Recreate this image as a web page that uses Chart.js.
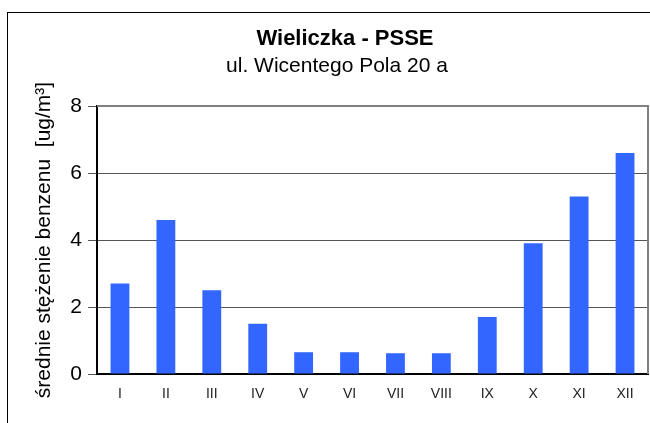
<!DOCTYPE html>
<html>
<head>
<meta charset="utf-8">
<script src="https://cdn.jsdelivr.net/npm/chart.js@4"></script>
<style>
  html, body { margin: 0; padding: 0; background: #fff; }
  #wrap { width: 650px; height: 423px; }
</style>
</head>
<body>
<div id="wrap"><canvas id="chart" width="650" height="423"></canvas></div>
<script>
// months (roman numerals) and mean benzene concentration [ug/m3]
const months = ['I', 'II', 'III', 'IV', 'V', 'VI', 'VII', 'VIII', 'IX', 'X', 'XI', 'XII'];
const benzene = [2.7, 4.6, 2.5, 1.5, 0.65, 0.65, 0.62, 0.62, 1.7, 3.9, 5.3, 6.6];
const yTicks = [0, 2, 4, 6, 8];

const titleText = 'Wieliczka - PSSE';
const subtitleText = 'ul. Wicentego Pola 20 a';
const yAxisText = 'średnie stężenie benzenu  [ug/m³]';

const FONT = '"Liberation Sans", Arial, sans-serif';

// outer frame, plot frame and the two title lines
const decorations = {
  id: 'decorations',
  beforeDraw(chart) {
    const ctx = chart.ctx;
    ctx.save();
    ctx.fillStyle = '#fff';
    ctx.fillRect(0, 0, chart.width, chart.height);
    ctx.strokeStyle = '#000';
    ctx.lineWidth = 1;
    ctx.strokeRect(7.5, 12.5, 700, 500);
    ctx.restore();
  },
  afterDatasetsDraw(chart) {
    const { ctx, chartArea: a } = chart;
    ctx.save();
    ctx.strokeStyle = '#808080';
    ctx.lineWidth = 2;
    ctx.beginPath();
    ctx.moveTo(a.left, a.top);
    ctx.lineTo(a.right, a.top);
    ctx.lineTo(a.right, a.bottom);
    ctx.stroke();
    ctx.fillStyle = '#000';
    ctx.textAlign = 'center';
    ctx.textBaseline = 'alphabetic';
    ctx.font = 'bold 22px ' + FONT;
    ctx.fillText(titleText, 345, 45);
    ctx.font = '21px ' + FONT;
    ctx.fillText(subtitleText, 337, 72);
    ctx.restore();
  }
};

new Chart(document.getElementById('chart'), {
  type: 'bar',
  data: {
    labels: months,
    datasets: [{
      data: benzene,
      backgroundColor: '#3366FF',
      categoryPercentage: 1,
      barPercentage: 0.41
    }]
  },
  options: {
    responsive: false,
    animation: false,
    layout: { padding: { top: 106, right: 2, bottom: 0, left: 12 } },
    plugins: {
      legend: { display: false },
      tooltip: { enabled: false }
    },
    scales: {
      x: {
        grid: { display: false },
        border: { color: '#000', width: 2 },
        ticks: { color: '#222', font: { family: FONT, size: 14 }, padding: 4 },
        afterFit: (s) => { s.height = 49; }
      },
      y: {
        min: 0,
        max: 8,
        afterBuildTicks: (s) => { s.ticks = yTicks.map((v) => ({ value: v })); },
        grid: { color: '#555', lineWidth: 1, tickLength: 9 },
        border: { color: '#000', width: 2 },
        ticks: { color: '#000', font: { family: FONT, size: 21 }, padding: 6 },
        title: {
          display: true,
          text: yAxisText,
          color: '#000',
          font: { family: FONT, size: 21 },
          padding: { top: 20, bottom: 0 }
        },
        afterFit: (s) => { s.width = 85; }
      }
    }
  },
  plugins: [decorations]
});
</script>
</body>
</html>
